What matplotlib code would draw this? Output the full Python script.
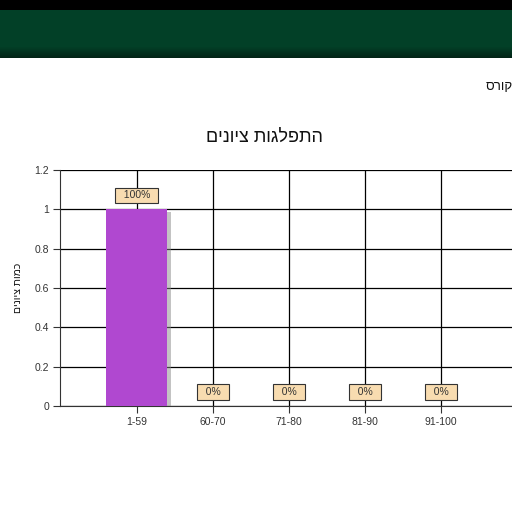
import matplotlib
matplotlib.use("Agg")
import matplotlib.pyplot as plt
import numpy as np
from matplotlib import patheffects as pe

plt.rcParams['font.family'] = ['Liberation Sans', 'DejaVu Sans']

categories = ["1-59", "60-70", "71-80", "81-90", "91-100"]
values = [1.0, 0.0, 0.0, 0.0, 0.0]
labels = ["100%", "0%", "0%", "0%", "0%"]
yticks = [0, 0.2, 0.4, 0.6, 0.8, 1.0, 1.2]
ytick_labels = ["0", "0.2", "0.4", "0.6", "0.8", "1", "1.2"]
title = "התפלגות ציונים"
ylabel = "כמות ציונים"
corner_text = "קורס"

def rtl(s):
    return s[::-1]

W = H = 512
fig = plt.figure(figsize=(5.12, 5.12), dpi=100)

# header band
hax = fig.add_axes([0, 1 - 58 / H, 1, 58 / H])
hax.set_axis_off()
grad = np.ones((58, 1, 3))
top_c = np.array([0x02, 0x40, 0x27]) / 255
bot_c = np.array([0x03, 0x22, 0x15]) / 255
for i in range(58):
    if i < 10:
        grad[i, 0] = (0, 0, 0)
    else:
        t = max(0, (i - 46) / 12)
        grad[i, 0] = top_c * (1 - t) + bot_c * t
hax.imshow(grad, aspect='auto', extent=[0, 1, 0, 1], interpolation='nearest')

fig.text(486 / W, 1 - 87 / H, rtl(corner_text), fontsize=9.5, ha='left', va='center', color='#111')

ax = fig.add_axes([60 / W, 1 - 406 / H, (W - 60) / W, (406 - 170) / H])
x = np.arange(len(categories))
bars = ax.bar(x, values, width=0.8, color='#b048d0', zorder=3,
              path_effects=[pe.SimplePatchShadow(offset=(3, -2), shadow_rgbFace='#888888', alpha=0.5), pe.Normal()])
ax.set_xlim(-1.01, (512 - 137) / 76)
ax.set_ylim(0, 1.2)
ax.set_yticks(yticks)
ax.set_yticklabels(ytick_labels, fontsize=7.5)
ax.set_xticks(x)
ax.set_xticklabels(categories, fontsize=7.5)
ax.grid(True, color='black', linewidth=0.9, zorder=0)
ax.set_axisbelow(True)
for s in ['top', 'right']:
    ax.spines[s].set_visible(False)
ax.spines['left'].set_color('#333')
ax.spines['bottom'].set_color('#333')
ax.tick_params(axis='y', direction='out', length=5, pad=3, colors='#333')
ax.tick_params(axis='x', direction='out', length=5, pad=3, colors='#333')

for xi, v, lab in zip(x, values, labels):
    ax.annotate("  " + lab + "  ", (xi, v), xytext=(0, 14), textcoords='offset pixels',
                ha='center', va='center', fontsize=7.5, color='#333', zorder=5,
                bbox=dict(boxstyle='square,pad=0.25', fc='#f8dcb0', ec='#333', lw=0.8))

fig.text(264 / W, 1 - 137 / H, rtl(title), fontsize=13, ha='center', va='center', color='#111')
fig.text(18 / W, 1 - 288 / H, rtl(ylabel), fontsize=7.5, ha='center', va='center', rotation=90, color='#111')

fig.savefig("out.png", dpi=100)
